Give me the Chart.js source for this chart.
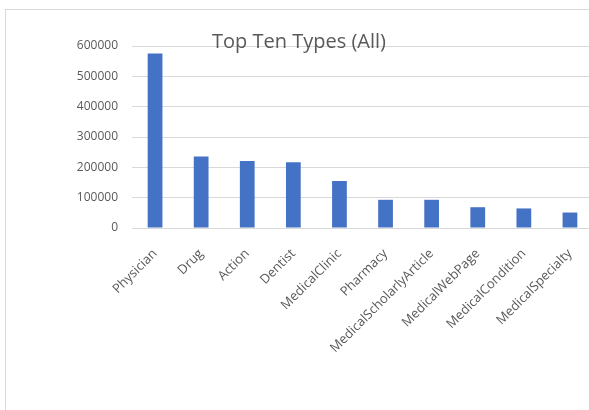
<!DOCTYPE html>
<html>
<head>
<meta charset="utf-8">
<script src="https://cdn.jsdelivr.net/npm/chart.js@4/dist/chart.umd.min.js"></script>
<style>
  html, body { margin: 0; padding: 0; background: #fff; overflow: hidden; }
  #frame { position: absolute; left: 5px; top: 9px; width: 640px; height: 460px; border: 1px solid #d9d9d9; }
  #wrap { position: absolute; left: 0; top: 0; width: 597px; height: 410px; }
</style>
</head>
<body>
<div id="frame"></div>
<div id="wrap"><canvas id="typesChart"></canvas></div>
<script>
// Top ten types
const types = ['Physician', 'Drug', 'Action', 'Dentist', 'MedicalClinic', 'Pharmacy',
  'MedicalScholarlyArticle', 'MedicalWebPage', 'MedicalCondition', 'MedicalSpecialty'];
const counts = [575000, 236000, 221000, 217000, 155000, 93000, 93000, 68500, 64500, 51000];
const yTicks = [0, 100000, 200000, 300000, 400000, 500000, 600000];

// judul digambar manual supaya menimpa garis grid atas
const titlePlugin = {
  id: 'titleOver',
  afterDraw(chart) {
    const ctx = chart.ctx;
    ctx.save();
    ctx.font = '20px "Open Sans", sans-serif';
    ctx.fillStyle = '#595959';
    ctx.textAlign = 'center';
    ctx.textBaseline = 'middle';
    ctx.fillText('Top Ten Types (All)', 299, 42);
    ctx.restore();
  }
};

const ctx = document.getElementById('typesChart').getContext('2d');

new Chart(ctx, {
  type: 'bar',
  data: {
    labels: types,
    datasets: [{
      label: 'Count',
      data: counts,
      backgroundColor: '#4472c4',
      borderWidth: 0,
      categoryPercentage: 1,
      barPercentage: 0.32
    }]
  },
  options: {
    responsive: true,
    maintainAspectRatio: false,
    animation: false,
    layout: { padding: { top: 46, right: 4, bottom: 0, left: 0 } },
    plugins: {
      legend: { display: false },
      title: { display: false },
      tooltip: { enabled: false }
    },
    scales: {
      x: {
        grid: { display: false },
        border: { display: true, color: '#d9d9d9' },
        ticks: {
          color: '#595959',
          font: { family: '"Open Sans", sans-serif', size: 13 },
          minRotation: 45,
          maxRotation: 45,
          autoSkip: false,
          padding: 10
        },
        afterFit(scale) { scale.height = 182; }
      },
      y: {
        min: 0,
        max: 600000,
        afterBuildTicks(scale) { scale.ticks = yTicks.map(v => ({ value: v })); },
        grid: { color: '#d9d9d9', drawTicks: false },
        border: { display: false },
        ticks: {
          color: '#595959',
          font: { family: '"Open Sans", sans-serif', size: 12 },
          padding: 14,
          callback: v => String(v)
        },
        afterFit(scale) { scale.width = 132; }
      }
    }
  },
  plugins: [titlePlugin]
});
</script>
</body>
</html>
